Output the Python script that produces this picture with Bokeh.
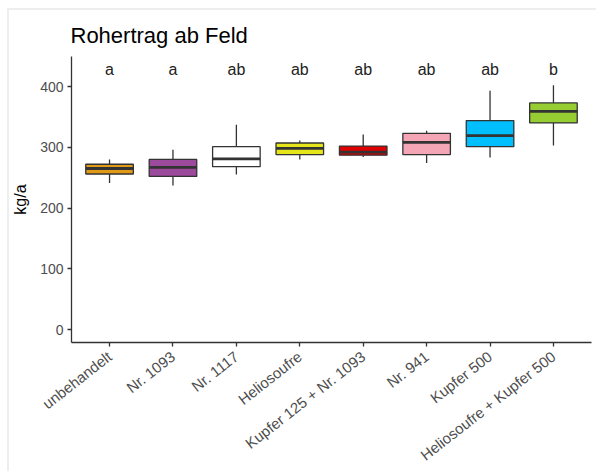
import math
from bokeh.plotting import figure
from bokeh.models import ColumnDataSource, FixedTicker, FactorRange, Range1d
from bokeh.transform import dodge
from bokeh.core.properties import value
from bokeh.embed import file_html
from bokeh.resources import INLINE

# ---- data ----
categories = ["unbehandelt", "Nr. 1093", "Nr. 1117", "Heliosoufre",
              "Kupfer 125 + Nr. 1093", "Nr. 941", "Kupfer 500",
              "Heliosoufre + Kupfer 500"]
whisker_low = [241, 237, 255, 280, 284, 274, 283, 303]
q1 = [256, 252, 268, 288, 287, 288, 301, 340]
median = [265, 267, 281, 298, 292, 308, 319, 359]
q3 = [272, 280, 301, 307, 302, 323, 344, 373]
whisker_high = [280, 296, 337, 311, 321, 327, 393, 402]
letters = ["a", "a", "ab", "ab", "ab", "ab", "ab", "b"]
fill_colors = ["#E09A18", "#9C4A9C", "#FFFFFF", "#E5E519",
               "#E00000", "#F4A6B6", "#00BFFF", "#96CD32"]
y_ticks = [0, 100, 200, 300, 400]
letter_y = 428

FONT = "Liberation Sans"
BOX_W = 0.75

src = ColumnDataSource(dict(
    cat=categories, lo=whisker_low, q1=q1, med=median, q3=q3, hi=whisker_high,
    letter=letters, color=fill_colors, ly=[letter_y] * len(categories),
))

x_range = FactorRange(*categories, range_padding=0.1, range_padding_units="absolute")

p = figure(
    width=589, height=463,
    x_range=x_range,
    y_range=Range1d(-21.4, 449.4),
    output_backend="svg", toolbar_location=None,
    title="Rohertrag ab Feld",
    min_border_left=62, min_border_right=7, min_border_top=46, min_border_bottom=131,
)
p.styles = {"margin-left": "7px", "margin-top": "8px",
            "border-top": "2px solid #EEEEEE", "border-left": "2px solid #EEEEEE"}

p.background_fill_color = "white"
p.border_fill_color = "white"
p.outline_line_color = None
p.xgrid.visible = False
p.ygrid.visible = False

p.title.text_font = FONT
p.title.text_font_size = "22px"
p.title.text_font_style = "normal"
p.title.text_color = "black"
p.title.align = "left"
p.title.offset = -1
p.title.standoff = 18

BOX_LINE = "#333333"
# whiskers
p.segment(x0="cat", y0="q3", x1="cat", y1="hi", source=src, line_color=BOX_LINE, line_width=1.3)
p.segment(x0="cat", y0="lo", x1="cat", y1="q1", source=src, line_color=BOX_LINE, line_width=1.3)
# boxes
p.vbar(x="cat", top="q3", bottom="q1", width=BOX_W, source=src,
       fill_color="color", line_color=BOX_LINE, line_width=1.3)
# medians
p.segment(x0=dodge("cat", -BOX_W / 2, range=x_range), y0="med",
          x1=dodge("cat", BOX_W / 2, range=x_range), y1="med",
          source=src, line_color=BOX_LINE, line_width=2.8)

# significance letters
p.text(x="cat", y="ly", text="letter", source=src,
       text_align="center", text_baseline="middle",
       text_font=value(FONT), text_font_size="16px", text_color="#222222")

# axes
for ax in (p.xaxis[0], p.yaxis[0]):
    ax.axis_line_color = "#333333"
    ax.axis_line_width = 1.3
    ax.major_tick_line_color = "#333333"
    ax.major_tick_line_width = 1.3
    ax.major_tick_out = 4
    ax.major_tick_in = 0
    ax.minor_tick_out = 0
    ax.minor_tick_in = 0
    ax.major_label_text_font = FONT
    ax.major_label_text_color = "#4D4D4D"

p.yaxis.major_label_text_font_size = "14px"
p.xaxis.major_label_text_font_size = "15px"

p.yaxis.ticker = FixedTicker(ticks=y_ticks)
p.yaxis.axis_label = "kg/a"
p.yaxis.axis_label_text_font = FONT
p.yaxis.axis_label_text_font_size = "16px"
p.yaxis.axis_label_text_font_style = "normal"
p.yaxis.axis_label_text_color = "black"
p.yaxis.axis_label_standoff = 8
p.yaxis.major_label_standoff = 4

p.xaxis.major_label_orientation = math.radians(38)
p.xaxis.major_label_standoff = 8

open("out.html", "w").write(file_html(p, INLINE))
